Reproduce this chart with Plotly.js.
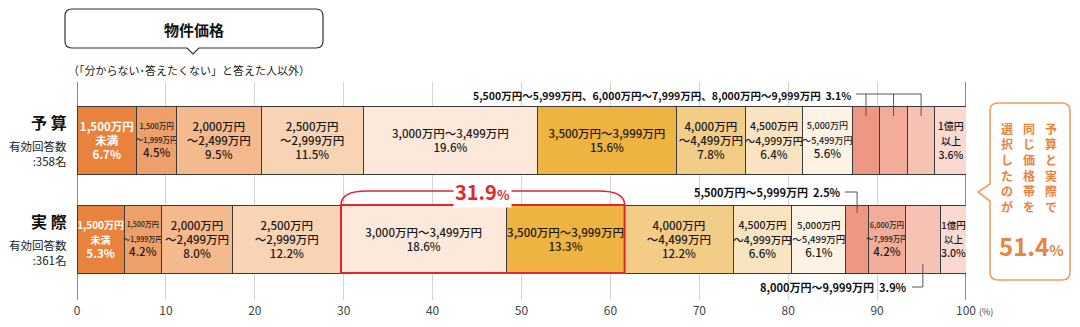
<!DOCTYPE html>
<html><head><meta charset="utf-8">
<script src="https://cdn.plot.ly/plotly-3.0.1.min.js"></script>
<style>html,body{margin:0;padding:0;background:#fff;}#chart{width:1080px;height:327px;}</style>
</head><body><div id="chart"></div>
<script>
// ---------- data ----------
const rows = ['予算', '実際'];
const rowNames = ['予 算', '実 際'];
const respondents = [358, 361];
const categories = ['1,500万円未満','1,500万円～1,999万円','2,000万円～2,499万円','2,500万円～2,999万円','3,000万円～3,499万円','3,500万円～3,999万円','4,000万円～4,499万円','4,500万円～4,999万円','5,000万円～5,499万円','5,500万円～5,999万円','6,000万円～7,999万円','8,000万円～9,999万円','1億円以上'];
const bandLabels = ['1,500万円<br>未満','1,500万円<br>～1,999万円','2,000万円<br>～2,499万円','2,500万円<br>～2,999万円','3,000万円～3,499万円','3,500万円～3,999万円','4,000万円<br>～4,499万円','4,500万円<br>～4,999万円','5,000万円<br>～5,499万円','5,500万円<br>～5,999万円','6,000万円<br>～7,999万円','8,000万円<br>～9,999万円','1億円<br>以上'];
const budget = [6.7, 4.5, 9.5, 11.5, 19.6, 15.6, 7.8, 6.4, 5.6, 3.1, 3.1, 3.1, 3.6];
const actual = [5.3, 4.2, 8.0, 12.2, 18.6, 13.3, 12.2, 6.6, 6.1, 2.5, 4.2, 3.9, 3.0];
const outsideBudget = [9, 10, 11];
const outsideActual = [9, 11];
const highlightBands = [4, 5];
const sameBandShare = 51.4;
const titleText = '物件価格';
const subtitleText = '（「分からない･答えたくない」と答えた人以外）';
const calloutColumns = ['予算と実際で', '同じ価格帯を', '選択したのが'];
const xTickVals = [0, 10, 20, 30, 40, 50, 60, 70, 80, 90, 100];
const xTickText = ['0', '10', '20', '30', '40', '50', '60', '70', '80', '90', '100'];

// ---------- styles ----------
const colors = ['#E8823C','#EEA06B','#F4B98C','#F8D3B4','#FDE9DB','#EEB340','#F3CD88','#F9E3C0','#FDF2E3','#EE9883','#F2AC99','#F5C2B4','#FAD9D1'];
const labelSizeB = [11.5, 7.5, 11.5, 11.5, 11.5, 11.5, 11.5, 10.5, 9, 9, 9, 9, 10];
const labelSizeA = [10, 7, 11.5, 11.5, 11.5, 11.5, 11.5, 10.5, 9.5, 9, 7.5, 9, 9.5];
const pctSizeB = [11.5, 11.5, 11.5, 11.5, 11.5, 11.5, 11.5, 11.5, 11.5, 11, 11, 11, 10.5];
const pctSizeA = [11.5, 11.5, 11.5, 11.5, 11.5, 11.5, 11.5, 11.5, 11.5, 11, 11.5, 11, 10.5];
const FONT = 'Noto Sans CJK JP, Noto Sans, sans-serif';
const ORANGE = '#E8843D';
const RED = '#E2262B';

// ---------- geometry helpers (layout) ----------
const W = 1080, H = 327, ML = 77, MR = 114, MT = 82, MB = 27;
const PW = W - ML - MR, PH = H - MT - MB;
const yRange = [-0.616, 1.586];
const barWidth = 0.687;
const PX = p => (p - ML) / PW;          // pixel -> paper x
const PY = p => (H - MB - p) / PH;      // pixel -> paper y
const DX = p => (p - ML) * 100 / PW;    // pixel -> data x
const DY = p => yRange[0] + (H - MB - p) / PH * (yRange[1] - yRange[0]);

function cellText(i, v, ls, ps, bold) {
  const b0 = bold ? '<b>' : '', b1 = bold ? '</b>' : '';
  const lab = `<span style="font-size:${ls}px">${b0}${bandLabels[i]}${b1}</span>`;
  return `${lab}<br><span style="font-size:${ps}px">${b0}${v.toFixed(1)}%${b1}</span>`;
}

const traces = categories.map((c, i) => {
  const tB = outsideBudget.includes(i) ? '' : cellText(i, budget[i], labelSizeB[i], pctSizeB[i], i === 0);
  const tA = outsideActual.includes(i) ? '' : cellText(i, actual[i], labelSizeA[i], pctSizeA[i], i === 0);
  return {
    type: 'bar', orientation: 'h', name: c,
    y: rows, x: [budget[i], actual[i]],
    marker: {color: colors[i], line: {color: '#3a3a3a', width: 1}},
    text: [tB, tA], textposition: 'inside', insidetextanchor: 'middle',
    textangle: 0, constraintext: 'none',
    textfont: {family: FONT, size: 11, weight: 500, color: i === 0 ? '#ffffff' : '#1a1a1a'},
    hoverinfo: 'skip', showlegend: false
  };
});

// cumulative positions
function starts(arr) { const s = []; let c = 0; arr.forEach(v => { s.push(c); c += v; }); return s; }
const sB = starts(budget), sA = starts(actual);
const cB = budget.map((v, i) => sB[i] + v / 2);
const cA = actual.map((v, i) => sA[i] + v / 2);

function pxPath(segs) {
  return segs.map(s => {
    if (s[0] === 'Z') return 'Z';
    return s[0] + ' ' + s.slice(1).map(p => PX(p[0]).toFixed(5) + ',' + PY(p[1]).toFixed(5)).join(' ');
  }).join(' ');
}

const shapes = [];
[0, 100].forEach(v => shapes.push({type: 'line', xref: 'x', yref: 'paper', x0: v, x1: v, y0: 0, y1: 1,
  line: {color: '#8a8a8a', width: 2}, layer: 'below'}));

const hx0 = sA[highlightBands[0]];
const hx1 = sA[highlightBands[1]] + actual[highlightBands[1]];
shapes.push({type: 'rect', xref: 'x', yref: 'y', x0: hx0, x1: hx1, y0: -barWidth / 2, y1: barWidth / 2,
  line: {color: RED, width: 2}, fillcolor: 'rgba(0,0,0,0)', layer: 'above'});
const yt = DY(191), yb = barWidth / 2, rd = 26 * 100 / PW;
shapes.push({type: 'path', xref: 'x', yref: 'y',
  path: `M ${hx0},${yb} Q ${hx0},${yt} ${hx0 + rd},${yt} L ${hx1 - rd},${yt} Q ${hx1},${yt} ${hx1},${yb}`,
  line: {color: RED, width: 1.5}, layer: 'above'});

const ly = PY(94), lyb = PY(116);
shapes.push({type: 'path', xref: 'x', yref: 'paper', layer: 'above', line: {color: '#555', width: 1},
  path: `M ${DX(856)},${ly} L ${cB[11]},${ly} M ${cB[9]},${ly} L ${cB[9]},${lyb} M ${cB[10]},${ly} L ${cB[10]},${lyb} M ${cB[11]},${ly} L ${cB[11]},${lyb}`});
shapes.push({type: 'path', xref: 'x', yref: 'paper', layer: 'above', line: {color: '#555', width: 1},
  path: `M ${DX(845)},${PY(192)} L ${cA[9]},${PY(192)} L ${cA[9]},${PY(213)}`});
shapes.push({type: 'path', xref: 'x', yref: 'paper', layer: 'above', line: {color: '#555', width: 1},
  path: `M ${DX(912)},${PY(287)} L ${cA[11]},${PY(287)} L ${cA[11]},${PY(264)}`});

shapes.push({type: 'path', xref: 'paper', yref: 'paper', fillcolor: '#ffffff', line: {color: '#333', width: 1.2},
  path: pxPath([['M',[72,9]],['L',[316,9]],['Q',[323,9],[323,16]],['L',[323,41]],['Q',[323,48],[316,48]],
    ['L',[199,48]],['L',[193,54]],['L',[187,48]],['L',[72,48]],['Q',[65,48],[65,41]],['L',[65,16]],['Q',[65,9],[72,9]],['Z']])});
shapes.push({type: 'path', xref: 'paper', yref: 'paper', fillcolor: '#ffffff', line: {color: '#EE9F62', width: 1.6},
  path: pxPath([['M',[998,103]],['L',[1062,103]],['Q',[1070,103],[1070,111]],['L',[1070,272]],['Q',[1070,280],[1062,280]],
    ['L',[998,280]],['Q',[990,280],[990,272]],['L',[990,201]],['L',[978,192]],['L',[990,184]],['L',[990,111]],['Q',[990,103],[998,103]],['Z']])});

const annotations = [];
function ann(o) { annotations.push(Object.assign({showarrow: false, xanchor: 'center', yanchor: 'middle',
  font: {family: FONT, size: 12, color: '#222'}}, o)); }

ann({xref: 'paper', yref: 'paper', x: PX(194), y: PY(29), text: `<b>${titleText}</b>`, font: {family: FONT, size: 15, color: '#111'}});
ann({xref: 'paper', yref: 'paper', x: PX(189), y: PY(70), text: subtitleText, font: {family: FONT, size: 11, color: '#222'}});

rows.forEach((r, k) => {
  const yi = k === 0 ? 1 : 0;
  ann({xref: 'paper', yref: 'y', x: 0, xshift: -8, xanchor: 'right', y: yi, yshift: 18,
    text: `<b>${rowNames[k]}</b>`, font: {family: FONT, size: 16, color: '#111'}});
  ann({xref: 'paper', yref: 'y', x: 0, xshift: -8, xanchor: 'right', align: 'right', y: yi, yshift: -13.5,
    text: `有効回答数<br>:${respondents[k]}名`, font: {family: FONT, size: 11.5, color: '#222'}});
});

ann({xref: 'paper', yref: 'paper', x: PX(853), xanchor: 'right', y: PY(95),
  text: `<b>${categories[9]}、${categories[10]}、${categories[11]}  ${budget[9].toFixed(1)}%</b>`, font: {family: FONT, size: 10.5, color: '#111'}});
ann({xref: 'paper', yref: 'paper', x: PX(843), xanchor: 'right', y: PY(192),
  text: `<b>${categories[9]}  ${actual[9].toFixed(1)}%</b>`, font: {family: FONT, size: 11, color: '#111'}});
ann({xref: 'paper', yref: 'paper', x: PX(909), xanchor: 'right', y: PY(287),
  text: `<b>${categories[11]}  ${actual[11].toFixed(1)}%</b>`, font: {family: FONT, size: 11, color: '#111'}});

const hsum = highlightBands.reduce((a, i) => a + actual[i], 0);
ann({xref: 'x', yref: 'y', x: (hx0 + hx1) / 2, y: yt, bgcolor: '#ffffff', borderpad: 1,
  text: `<b>${hsum.toFixed(1)}</b><span style="font-size:13px"><b>%</b></span>`, font: {family: FONT, size: 20, color: RED}});

ann({xref: 'paper', yref: 'paper', x: PX(966), xshift: 11, xanchor: 'left', y: PY(311),
  text: '(%)', font: {family: FONT, size: 9, color: '#444'}});

const colX = [1051, 1029, 1007];
calloutColumns.forEach((col, ci) => {
  Array.from(col).forEach((ch, k) => {
    ann({xref: 'paper', yref: 'paper', x: PX(colX[ci]), y: PY(128 + k * 15.7), borderpad: 0,
      text: `<b>${ch}</b>`, font: {family: FONT, size: 12, color: ORANGE}});
  });
});
ann({xref: 'paper', yref: 'paper', x: PX(1031), y: PY(245),
  text: `<b>${sameBandShare.toFixed(1)}</b><span style="font-size:15px"><b>%</b></span>`, font: {family: FONT, size: 24, color: ORANGE}});

const layout = {
  width: W, height: H, margin: {l: ML, r: MR, t: MT, b: MB, pad: 0},
  paper_bgcolor: '#ffffff', plot_bgcolor: '#ffffff',
  barmode: 'stack', bargap: 1 - barWidth,
  font: {family: FONT},
  xaxis: {range: [0, 100], tickvals: xTickVals, ticktext: xTickText, showgrid: true, gridcolor: '#d4d4d4', gridwidth: 1,
    zeroline: false, showline: false, ticks: '', ticklabelstandoff: 2, tickfont: {family: FONT, size: 12, color: '#444'}, fixedrange: true},
  yaxis: {type: 'category', categoryorder: 'array', categoryarray: ['実際', '予算'], range: yRange,
    showticklabels: false, showgrid: false, zeroline: false, showline: false, fixedrange: true},
  shapes: shapes, annotations: annotations, showlegend: false
};
Plotly.newPlot('chart', traces, layout, {displayModeBar: false, staticPlot: true});
</script></body></html>
